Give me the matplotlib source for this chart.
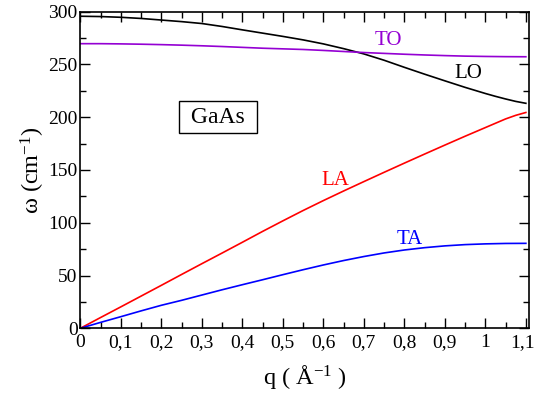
import numpy as np
import matplotlib
matplotlib.use('Agg')
import matplotlib.pyplot as plt
import matplotlib.transforms as mtransforms
from matplotlib.ticker import MultipleLocator, FuncFormatter

# q in 1/Angstrom, frequencies in cm^-1
q = [0.0, 0.05, 0.1, 0.15, 0.2, 0.25, 0.3, 0.35, 0.4, 0.45, 0.5, 0.55,
     0.6, 0.65, 0.7, 0.75, 0.8, 0.85, 0.9, 0.95, 1.0, 1.025, 1.05, 1.075, 1.1]
lo = [295.7, 295.4, 294.7, 293.6, 292.1, 290.6, 288.8, 286.0, 282.8, 279.7, 276.6, 273.3,
      269.5, 265.0, 260.0, 254.0, 247.3, 240.8, 234.5, 228.3, 222.5, 219.8, 217.3, 215.0, 213.2]
to = [269.7, 269.7, 269.5, 269.2, 268.8, 268.3, 267.7, 267.0, 266.2, 265.4, 264.8, 264.2,
      263.3, 262.3, 261.3, 260.5, 259.7, 259.0, 258.4, 257.9, 257.6, 257.5, 257.4, 257.35, 257.3]
la = [0.0, 10.2, 20.3, 30.5, 40.7, 51.0, 61.2, 71.3, 81.5, 91.8, 101.8, 111.6,
      121.0, 130.1, 139.0, 147.8, 156.5, 165.1, 173.6, 182.0, 190.2, 194.3, 198.4, 201.8, 204.5]
ta = [0.0, 5.6, 11.0, 16.5, 21.8, 26.5, 31.5, 36.5, 41.3, 46.0, 50.8, 55.5,
      60.0, 64.2, 68.0, 71.4, 74.2, 76.4, 78.1, 79.3, 80.0, 80.2, 80.4, 80.45, 80.5]

ramos = [('LO', lo, 'black'), ('TO', to, '#9400d3'),
         ('LA', la, 'red'), ('TA', ta, 'blue')]
# posicao dos rotulos (q, omega)
rotulos = {'TO': (0.76, 272.5), 'LO': (0.958, 241.6),
           'LA': (0.629, 140.5), 'TA': (0.814, 83.7)}
xticks = [0, 0.1, 0.2, 0.3, 0.4, 0.5, 0.6, 0.7, 0.8, 0.9, 1.0, 1.1]

plt.rcParams['font.family'] = ['Liberation Serif', 'DejaVu Serif']
plt.rcParams['mathtext.fontset'] = 'custom'
plt.rcParams['mathtext.rm'] = 'Liberation Serif'
plt.rcParams['mathtext.it'] = 'Liberation Serif:italic'

fig = plt.figure(figsize=(5.36, 3.94), dpi=100)
ax = fig.add_axes([80.3/536, 1 - 328.3/394, 448.4/536, 316.6/394])

for nome, w, cor in ramos:
    ax.plot(q, w, color=cor, lw=1.2)
    xt, yt = rotulos[nome]
    ax.text(xt, yt, nome, color=cor, fontsize=15, ha='center', va='center')

ax.text(0.34, 200.2, ' GaAs ', fontsize=17, ha='center', va='center',
        bbox=dict(boxstyle='square,pad=0.25', fc='white', ec='black', lw=1.0))

ax.set_xlim(0, 1.107)
ax.set_ylim(0, 300)
ax.set_xticks(xticks)
ax.xaxis.set_minor_locator(MultipleLocator(0.05))
ax.yaxis.set_major_locator(MultipleLocator(50))
ax.yaxis.set_minor_locator(MultipleLocator(25))

def virgula(v, pos):
    s = ('%.1f' % v).rstrip('0').rstrip('.')
    return s.replace('.', ',')

ax.xaxis.set_major_formatter(FuncFormatter(virgula))
ax.tick_params(which='both', direction='in', top=True, right=True,
               labelsize=14, width=1.0)
ax.tick_params(which='major', length=7)
ax.tick_params(which='minor', length=4)
ax.tick_params(axis='y', pad=2)
ax.tick_params(axis='x', pad=4)
for sp in ax.spines.values():
    sp.set_linewidth(1.2)

# o ultimo rotulo (1,1) encosta na borda: puxa um pouco para a esquerda
ultimo = ax.xaxis.get_major_ticks()[-1].label1
ultimo.set_transform(ultimo.get_transform() +
                     mtransforms.ScaledTranslation(-3/100, 0, fig.dpi_scale_trans))

ax.set_xlabel('q ( Å$^{-1}$ )', fontsize=17.5, labelpad=9)
ax.set_ylabel('ω (cm$^{-1}$)', fontsize=17.5, labelpad=1)

fig.savefig('out.png', dpi=100)
